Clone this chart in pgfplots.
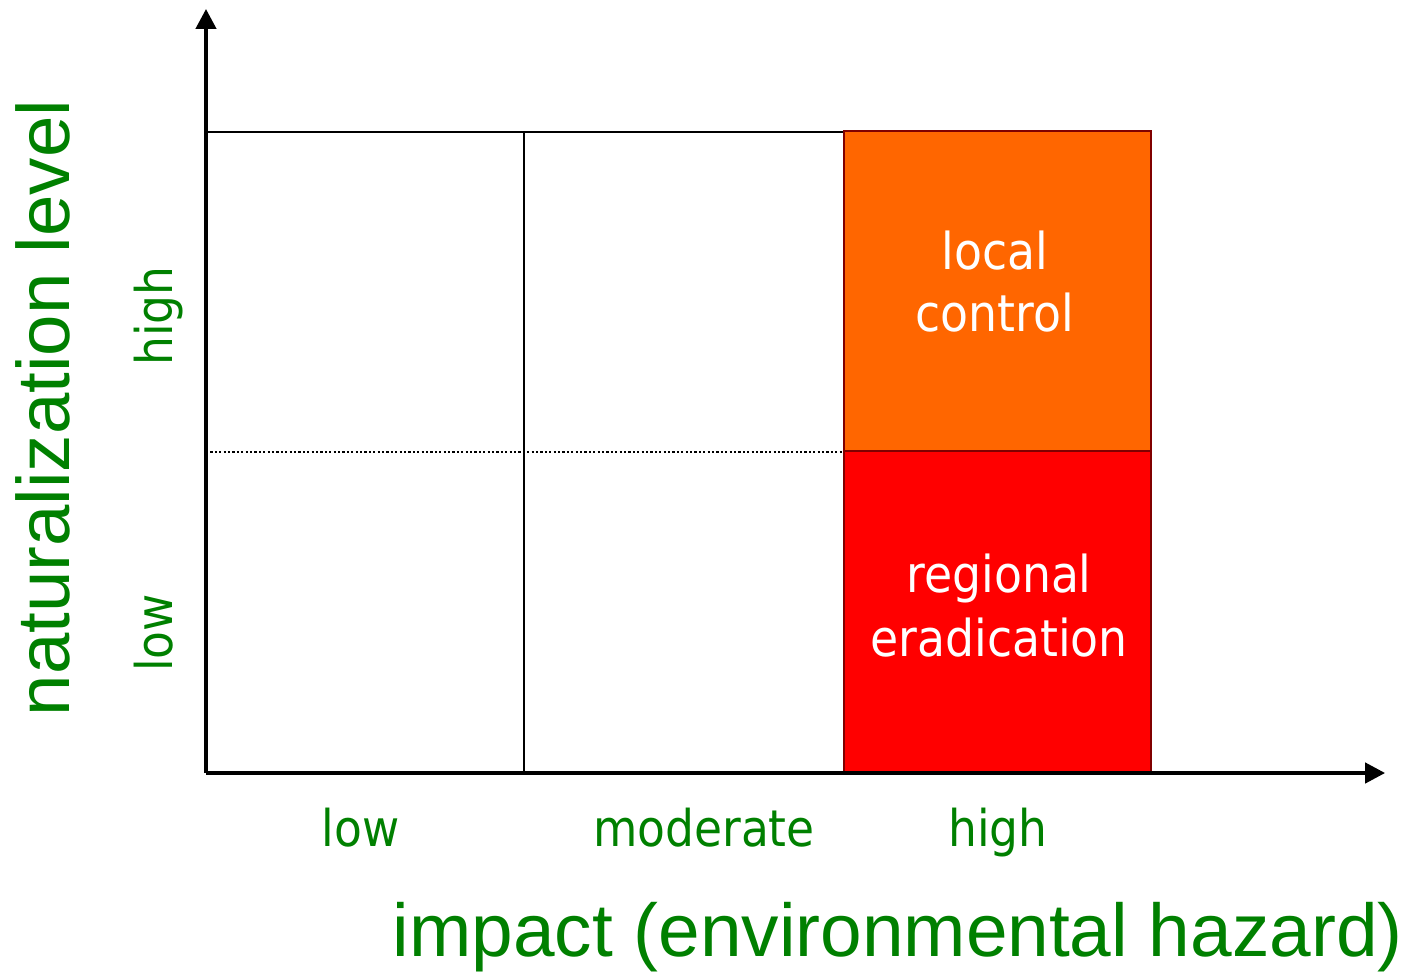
\documentclass[border=0pt]{standalone}
\usepackage{fontspec}
\usepackage{pgfplots}
\pgfplotsset{compat=1.18}
\usetikzlibrary{arrows.meta}
\setmainfont{Liberation Sans}
\newfontfamily\tah{DejaVu Sans Condensed}
\definecolor{txtgreen}{RGB}{0,128,0}
\definecolor{cellorange}{RGB}{255,102,0}
\definecolor{cellred}{RGB}{255,0,0}
\definecolor{celledge}{RGB}{128,0,0}
\begin{document}
\begin{tikzpicture}
\begin{axis}[
  anchor=origin, at={(0,0)},
  x=159pt, y=160.25pt,
  xmin=0, xmax=3.708, ymin=0, ymax=2.384,
  axis lines*=left,
  axis line style={line width=2.1pt, -{Triangle[length=10pt,width=10pt]}},
  xtick={0.486,1.566,2.49}, xticklabels={low,moderate,high},
  ytick=\empty,
  major tick length=0pt,
  xticklabel style={font=\tah\fontsize{25.3}{30}\selectfont, text=txtgreen, anchor=base, yshift=-36.5pt},
  clip=false, axis on top,
]
% grid of cells
\addplot[black, line width=1pt] coordinates {(0,2) (2.006,2)};
\addplot[black, line width=1pt] coordinates {(1,0) (1,2)};
\addplot[black, line width=1pt, dash pattern=on 1.1pt off 1.1pt] coordinates {(0,1) (2.006,1)};
% coloured cells
\addplot[fill=cellorange, draw=celledge, line width=1pt] coordinates {(2.006,1.005) (2.972,1.005) (2.972,2.003) (2.006,2.003)} -- cycle;
\addplot[fill=cellred, draw=celledge, line width=1pt] coordinates {(2.006,0) (2.972,0) (2.972,1.005) (2.006,1.005)} -- cycle;
% cell texts
\node[anchor=base, inner sep=0pt, text=white, font=\tah\fontsize{25.4}{30}\selectfont] at (axis cs:2.481,1.572) {local};
\node[anchor=base, inner sep=0pt, text=white, font=\tah\fontsize{25.4}{30}\selectfont] at (axis cs:2.481,1.376) {control};
\node[anchor=base, inner sep=0pt, text=white, font=\tah\fontsize{25.4}{30}\selectfont] at (axis cs:2.494,0.562) {regional};
\node[anchor=base, inner sep=0pt, text=white, font=\tah\fontsize{25.4}{30}\selectfont] at (axis cs:2.494,0.362) {eradication};
% y category labels
\node[rotate=90, anchor=base, inner sep=0pt, text=txtgreen, font=\tah\fontsize{25.3}{30}\selectfont] at (axis cs:-0.104,1.426) {high};
\node[rotate=90, anchor=base, inner sep=0pt, text=txtgreen, font=\tah\fontsize{25.3}{30}\selectfont] at (axis cs:-0.104,0.437) {low};
% axis titles
\node[rotate=90, anchor=base, inner sep=0pt, text=txtgreen, font=\fontsize{37.2}{44}\selectfont] at (axis cs:-0.428,1.139) {naturalization level};
\node[anchor=base, inner sep=0pt, text=txtgreen, font=\fontsize{37.4}{44}\selectfont] at (axis cs:2.175,-0.571) {impact (environmental hazard)};
\end{axis}
\pgfresetboundingbox
\useasboundingbox (-103pt,-100.5pt) rectangle (600pt,386.5pt);
\end{tikzpicture}
\end{document}
